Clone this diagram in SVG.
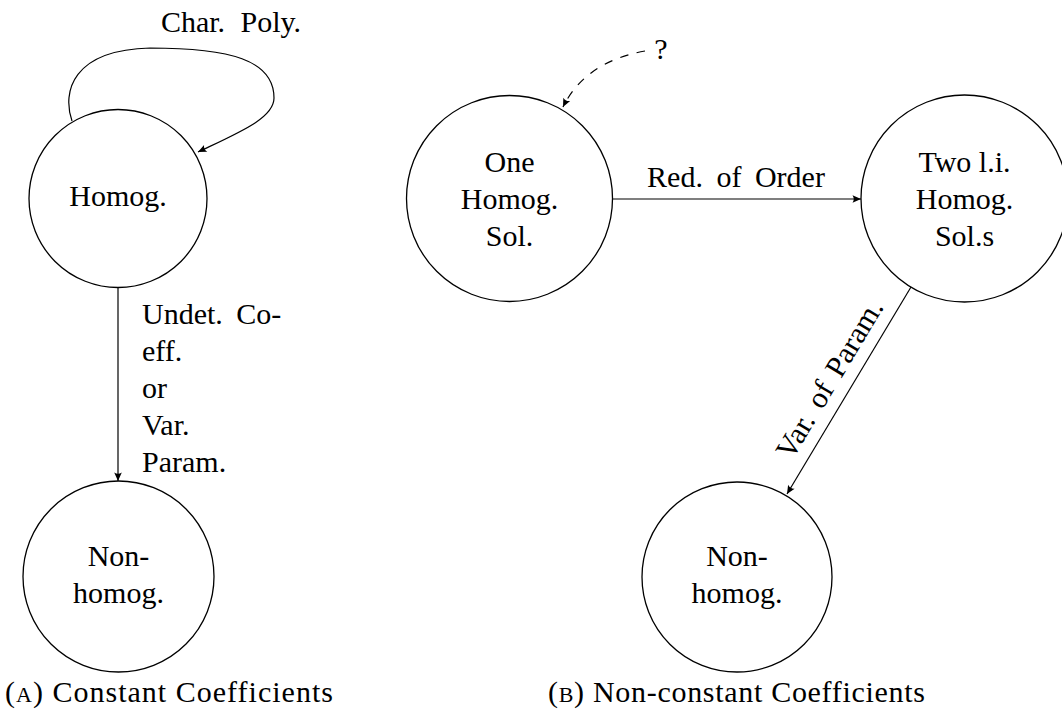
<svg xmlns="http://www.w3.org/2000/svg" width="1062" height="720" viewBox="0 0 1062 720">
<style>
text{font-family:"Liberation Serif","Times New Roman",serif;font-size:30px;fill:#000}
.c{text-anchor:middle}
.n circle{fill:#fff;stroke:#000;stroke-width:1.3}
.e{fill:none;stroke:#000;stroke-width:1.2}
</style>
<defs>
<marker id="ah" viewBox="-9 -5 10 10" markerWidth="10" markerHeight="10" refX="0" refY="0" orient="auto" markerUnits="userSpaceOnUse">
<path d="M0,0 L-8.5,-3.8 Q-6,0 -8.5,3.8 Z" fill="#000"/>
</marker>
</defs>
<rect width="1062" height="720" fill="#fff"/>
<g id="connectors">
<path class="e" d="M72,121 C62,92 72,50 150,48 C230,48 274,60 274,98 C274,118 240,132 198,152" marker-end="url(#ah)"/>
<text x="231" y="32" class="c" word-spacing="8">Char. Poly.</text>
<path class="e" d="M118,288 L118,481" marker-end="url(#ah)"/>
<text x="142" y="324" word-spacing="6">Undet. Co-</text>
<text x="142" y="361">eff.</text>
<text x="142" y="398">or</text>
<text x="142" y="435">Var.</text>
<text x="142" y="472">Param.</text>
<path class="e" d="M645,51 Q585,62 563,107" stroke-dasharray="8.5 8.5" marker-end="url(#ah)"/>
<text x="661" y="59" class="c">?</text>
<path class="e" d="M612,199 L861,199" marker-end="url(#ah)"/>
<text x="736" y="187" class="c" word-spacing="6">Red. of Order</text>
<path class="e" d="M911,287 L787,494" marker-end="url(#ah)"/>
<text class="c" transform="translate(838,384) rotate(-59)" word-spacing="4">Var. of Param.</text>
</g>
<g id="homog" class="n"><circle cx="118" cy="198.5" r="89"/><text x="118" y="206" class="c">Homog.</text></g>
<g id="nonhomogA" class="n"><circle cx="118.5" cy="576.5" r="95.5"/><text x="118.5" y="566" class="c">Non-</text><text x="118.5" y="603" class="c">homog.</text></g>
<g id="onehomog" class="n"><circle cx="509.5" cy="198.5" r="103"/><text x="509.5" y="172" class="c">One</text><text x="509.5" y="209" class="c">Homog.</text><text x="509.5" y="246" class="c">Sol.</text></g>
<g id="twohomog" class="n"><circle cx="964.5" cy="198.5" r="103.5"/><text x="964.5" y="172" class="c">Two l.i.</text><text x="964.5" y="209" class="c">Homog.</text><text x="964.5" y="246" class="c">Sol.s</text></g>
<g id="nonhomogB" class="n"><circle cx="737" cy="577" r="95"/><text x="737" y="566" class="c">Non-</text><text x="737" y="603" class="c">homog.</text></g>
<g id="captions">
<text x="5" y="702" textLength="328">(<tspan font-size="22">A</tspan>) Constant Coefficients</text>
<text x="548" y="702" textLength="377">(<tspan font-size="22">B</tspan>) Non-constant Coefficients</text>
</g>
</svg>
